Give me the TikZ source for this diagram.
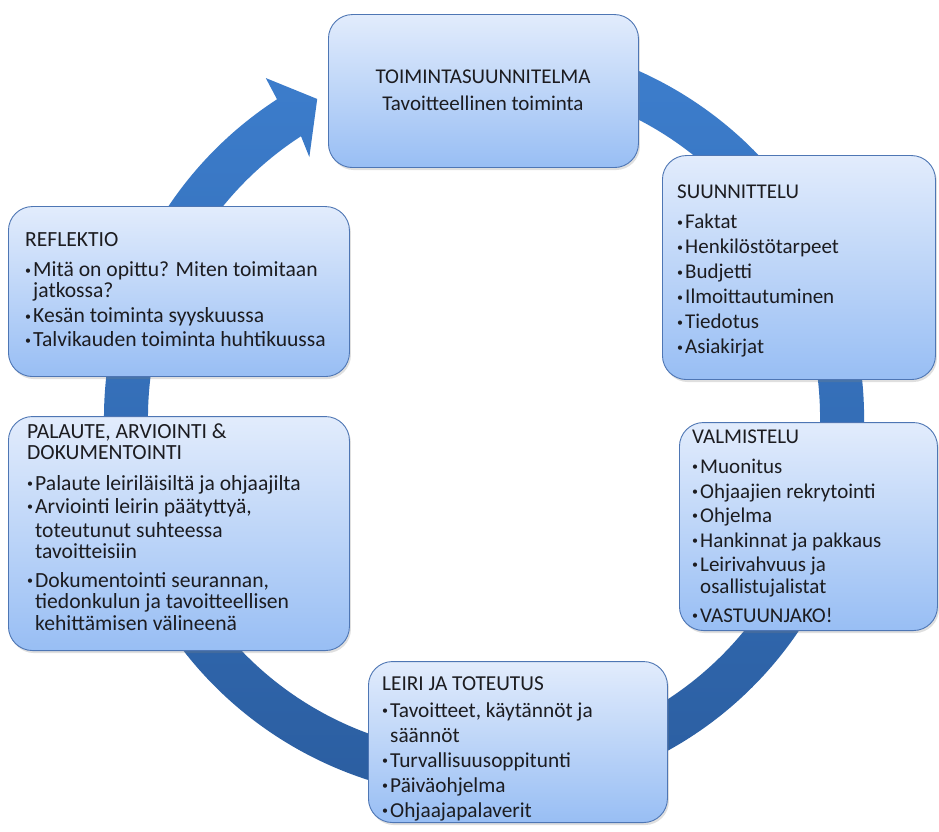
\documentclass[tikz,border=0pt]{standalone}
\usepackage{fontspec}
\setmainfont{Carlito}
\usetikzlibrary{shadows}
\definecolor{bandtop}{RGB}{62,128,208}
\definecolor{bandbot}{RGB}{42,92,158}
\definecolor{boxtop}{RGB}{226,236,252}
\definecolor{boxbot}{RGB}{152,190,244}
\definecolor{boxline}{RGB}{78,118,180}
\definecolor{txtcol}{RGB}{28,28,32}
\newcommand{\mybul}{\makebox[8pt][l]{\fontsize{12}{12}\selectfont\raisebox{2.2pt}{•}}}
\newcommand{\mysp}{\hspace*{8pt}}
\begin{document}
\begin{tikzpicture}[x=1pt,y=1pt,
  box/.style={draw=boxline, line width=0.9pt, rounded corners=24pt,
    top color=boxtop, bottom color=boxbot,
    drop shadow={opacity=0.25, shadow xshift=1.5pt, shadow yshift=-2.5pt},
    inner sep=0pt, anchor=south west},
  txt/.style={anchor=base west, align=left, inner sep=0pt, text=txtcol},
  band/.style={top color=bandtop, bottom color=bandbot}]
\fill[white] (0,0) rectangle (939,831);
\useasboundingbox (0,0) rectangle (939,831);

% circular arrow
\shade[band, shift={(484,413)}]
  (105:380) arc[start angle=105, end angle=-237, radius=380]
  -- (-237.3:404) -- (-242.4:360) -- (-236.2:314) -- (-237:336)
  arc[start angle=-237, end angle=105, radius=336] -- cycle;

% boxes
\node[box, minimum width=310pt, minimum height=153pt] (top) at (328,663) {};
\node[box, minimum width=273pt, minimum height=224pt] (suun) at (662,451) {};
\node[box, minimum width=258pt, minimum height=208pt] (valm) at (679,200) {};
\node[box, minimum width=299pt, minimum height=161pt] (leiri) at (368,8) {};
\node[box, minimum width=341pt, minimum height=234pt] (pal) at (8,180) {};
\node[box, minimum width=341pt, minimum height=170pt] (refl) at (8,454) {};

% texts (base anchor = baseline of the last line)
\node[anchor=base, align=center, inner sep=0pt, text=txtcol,
  font=\fontsize{21}{25}\selectfont] (toptxt) at (483,720)
  {TOIMINTASUUNNITELMA\\[2pt] Tavoitteellinen toiminta};

\node[txt, font=\fontsize{21}{25}\selectfont] (suuntxt) at (677,477)
  {SUUNNITTELU\\[5pt]
   \mybul Faktat\\
   \mybul Henkilöstötarpeet\\
   \mybul Budjetti\\
   \mybul Ilmoittautuminen\\
   \mybul Tiedotus\\
   \mybul Asiakirjat};

\node[txt, font=\fontsize{21}{25}\selectfont] (valmtxt) at (692,209)
  {VALMISTELU\\[5pt]
   \mybul Muonitus\\
   \mybul Ohjaajien rekrytointi\\[-1pt]
   \mybul Ohjelma\\
   \mybul Hankinnat ja pakkaus\\[-1pt]
   \mybul Leirivahvuus ja\\[-3pt]
   \mysp osallistujalistat\\[4pt]
   \mybul VASTUUNJAKO!};

\node[txt, font=\fontsize{21.3}{25}\selectfont] (leiritxt) at (382,14)
  {LEIRI JA TOTEUTUS\\[2pt]
   \mybul Tavoitteet, käytännöt ja\\
   \mysp säännöt\\
   \mybul Turvallisuusoppitunti\\
   \mybul Päiväohjelma\\
   \mybul Ohjaajapalaverit};

\node[txt, font=\fontsize{21.6}{22}\selectfont] (paltxt) at (27,201)
  {PALAUTE, ARVIOINTI \&\\[-1pt]
   DOKUMENTOINTI\\[9pt]
   \mybul Palaute leiriläisiltä ja ohjaajilta\\[1pt]
   \mybul Arviointi leirin päätyttyä,\\[2pt]
   \mysp toteutunut suhteessa\\[-1pt]
   \mysp tavoitteisiin\\[7pt]
   \mybul Dokumentointi seurannan,\\[-1pt]
   \mysp tiedonkulun ja tavoitteellisen\\
   \mysp kehittämisen välineenä};

\node[txt, font=\fontsize{21.6}{21}\selectfont] (refltxt) at (25,484)
  {REFLEKTIO\\[9pt]
   \mybul Mitä on opittu? Miten toimitaan\\
   \mysp jatkossa?\\[4pt]
   \mybul Kesän toiminta syyskuussa\\[3pt]
   \mybul Talvikauden toiminta huhtikuussa};
\end{tikzpicture}
\end{document}
